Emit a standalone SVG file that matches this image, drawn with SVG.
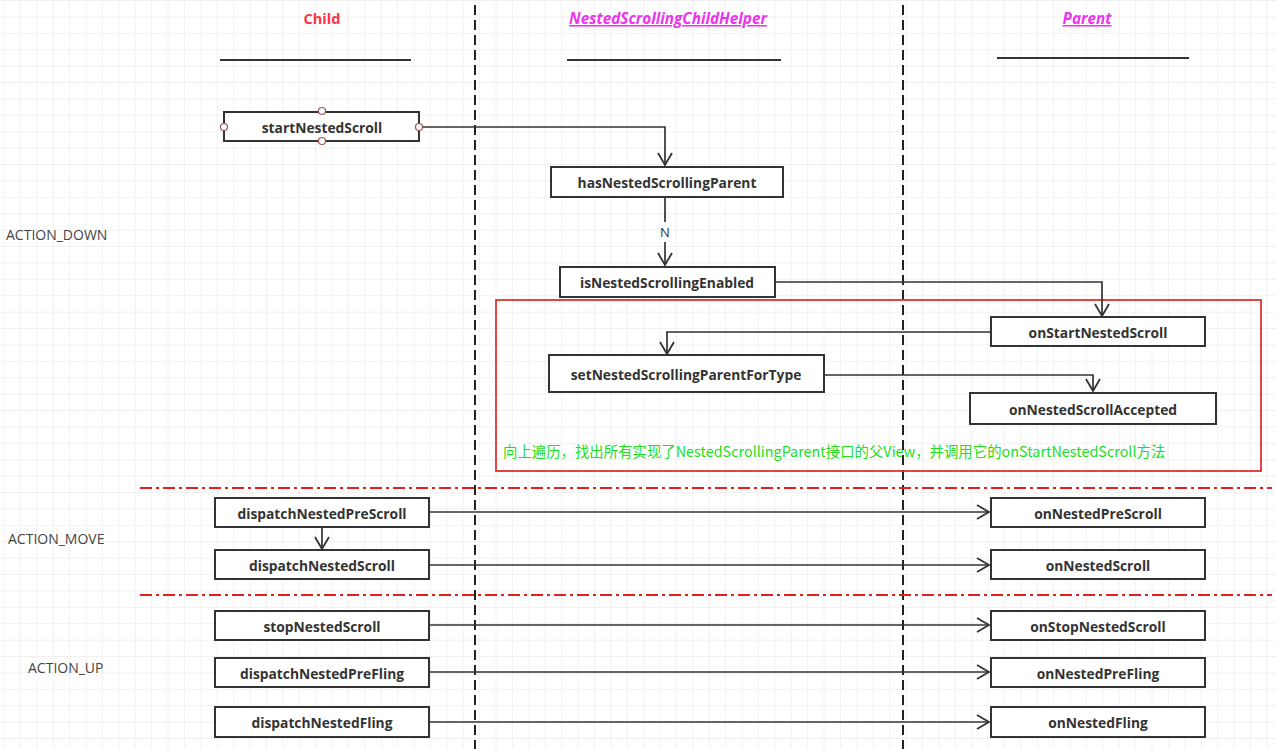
<svg xmlns="http://www.w3.org/2000/svg" width="1276" height="749" viewBox="0 0 1276 749">
<defs>
<pattern id="grid" width="16.4" height="16.4" patternUnits="userSpaceOnUse" x="4.5" y="1">
<path d="M16.4 0 V16.4 M0 16.4 H16.4" fill="none" stroke="#e4e4e4" stroke-width="1"/>
</pattern>
<marker id="arr" markerWidth="16" markerHeight="18" refX="13" refY="9" orient="auto" markerUnits="userSpaceOnUse">
<path d="M1,2 L13,9 L1,16" fill="none" stroke="#333" stroke-width="1.8"/>
</marker>
</defs>
<style>
.box{fill:#fff;stroke:#333;stroke-width:2}
.bt{font-family:"Open Sans","Noto Sans",sans-serif;font-weight:bold;font-size:13.8px;fill:#333;text-anchor:middle;dominant-baseline:central}
.lbl{font-family:"Open Sans","Noto Sans",sans-serif;font-size:14px;fill:#444}
.conn{fill:none;stroke:#333;stroke-width:1.7}
.hd{font-family:"Open Sans","Noto Sans",sans-serif;font-weight:bold;font-style:italic;font-size:15.3px;fill:#ee33ee;text-anchor:middle;text-decoration:underline}
.hl{stroke:#333;stroke-width:2}
.vd{stroke:#222;stroke-width:2;stroke-dasharray:10 5}
.rd{stroke:#e02020;stroke-width:2;stroke-dasharray:12 4 3 4}
.pt{fill:#fff;stroke:#a05050;stroke-width:1.2}
</style>
<rect width="1276" height="749" fill="#fff"/>
<rect width="1276" height="749" fill="url(#grid)"/>

<g id="lanes">
<line class="vd" x1="475" y1="5" x2="475" y2="749"/>
<line class="vd" x1="903" y1="5" x2="903" y2="749"/>
<line class="rd" x1="140" y1="488" x2="1272" y2="488"/>
<line class="rd" x1="140" y1="595" x2="1272" y2="595"/>
</g>

<g id="headers">
<text x="322" y="24" font-family="'Open Sans','Noto Sans',sans-serif" font-weight="bold" font-size="14.5" fill="#ff3344" text-anchor="middle">Child</text>
<text class="hd" x="668" y="24">NestedScrollingChildHelper</text>
<text class="hd" x="1087" y="24">Parent</text>
<line class="hl" x1="220" y1="60" x2="411" y2="60"/>
<line class="hl" x1="567" y1="60" x2="781" y2="60"/>
<line class="hl" x1="997" y1="58" x2="1189" y2="58"/>
</g>

<g id="phase-labels">
<text class="lbl" x="6" y="240">ACTION_DOWN</text>
<text class="lbl" x="8" y="544">ACTION_MOVE</text>
<text class="lbl" x="28" y="673">ACTION_UP</text>
</g>

<g id="redbox">
<rect x="496" y="300" width="765" height="171" fill="none" stroke="#e03030" stroke-width="1.8"/>
<text x="503" y="457" font-family="'Noto Sans CJK SC','Noto Sans',sans-serif" font-size="14.4" fill="#22dd22">向上遍历，找出所有实现了NestedScrollingParent接口的父View，并调用它的onStartNestedScroll方法</text>
</g>

<g id="connectors">
<path class="conn" d="M419,127 H665 V165" marker-end="url(#arr)"/>
<path class="conn" d="M665,197 V222 M665,242 V265" marker-end="url(#arr)"/>
<path class="conn" d="M775,282 H1102 V316" marker-end="url(#arr)"/>
<path class="conn" d="M991,332 H667 V354" marker-end="url(#arr)"/>
<path class="conn" d="M824,375 H1093 V391" marker-end="url(#arr)"/>
<path class="conn" d="M322,527 V549" marker-end="url(#arr)"/>
<path class="conn" d="M429,512 H989" marker-end="url(#arr)"/>
<path class="conn" d="M429,565 H989" marker-end="url(#arr)"/>
<path class="conn" d="M429,625 H989" marker-end="url(#arr)"/>
<path class="conn" d="M429,672 H989" marker-end="url(#arr)"/>
<path class="conn" d="M429,722 H989" marker-end="url(#arr)"/>
<text x="665" y="232" font-family="'Open Sans','Noto Sans',sans-serif" font-size="13" fill="#333" text-anchor="middle" dominant-baseline="central">N</text>
</g>

<g id="startNestedScroll">
<rect class="box" x="224" y="112" width="195" height="29"/>
<text class="bt" x="322" y="127">startNestedScroll</text>
<circle class="pt" cx="322" cy="111" r="3.5"/>
<circle class="pt" cx="322" cy="141" r="3.5"/>
<circle class="pt" cx="224" cy="127" r="3.5"/>
<circle class="pt" cx="419" cy="127" r="3.5"/>
</g>
<g id="hasNestedScrollingParent">
<rect class="box" x="551" y="167" width="232" height="30"/>
<text class="bt" x="667" y="182">hasNestedScrollingParent</text>
</g>
<g id="isNestedScrollingEnabled">
<rect class="box" x="560" y="267" width="215" height="30"/>
<text class="bt" x="667" y="282">isNestedScrollingEnabled</text>
</g>
<g id="onStartNestedScroll">
<rect class="box" x="991" y="317" width="214" height="29"/>
<text class="bt" x="1098" y="332">onStartNestedScroll</text>
</g>
<g id="setNestedScrollingParentForType">
<rect class="box" x="549" y="355" width="275" height="37"/>
<text class="bt" x="686" y="374">setNestedScrollingParentForType</text>
</g>
<g id="onNestedScrollAccepted">
<rect class="box" x="970" y="393" width="246" height="31"/>
<text class="bt" x="1093" y="409">onNestedScrollAccepted</text>
</g>
<g id="dispatchNestedPreScroll">
<rect class="box" x="215" y="498" width="214" height="29"/>
<text class="bt" x="322" y="513">dispatchNestedPreScroll</text>
</g>
<g id="dispatchNestedScroll">
<rect class="box" x="215" y="550" width="214" height="29"/>
<text class="bt" x="322" y="565">dispatchNestedScroll</text>
</g>
<g id="onNestedPreScroll">
<rect class="box" x="991" y="498" width="214" height="29"/>
<text class="bt" x="1098" y="513">onNestedPreScroll</text>
</g>
<g id="onNestedScroll">
<rect class="box" x="991" y="550" width="214" height="29"/>
<text class="bt" x="1098" y="565">onNestedScroll</text>
</g>
<g id="stopNestedScroll">
<rect class="box" x="215" y="611" width="214" height="29"/>
<text class="bt" x="322" y="626">stopNestedScroll</text>
</g>
<g id="dispatchNestedPreFling">
<rect class="box" x="215" y="658" width="214" height="29"/>
<text class="bt" x="322" y="673">dispatchNestedPreFling</text>
</g>
<g id="dispatchNestedFling">
<rect class="box" x="215" y="707" width="214" height="30"/>
<text class="bt" x="322" y="722">dispatchNestedFling</text>
</g>
<g id="onStopNestedScroll">
<rect class="box" x="991" y="611" width="214" height="29"/>
<text class="bt" x="1098" y="626">onStopNestedScroll</text>
</g>
<g id="onNestedPreFling">
<rect class="box" x="991" y="658" width="214" height="29"/>
<text class="bt" x="1098" y="673">onNestedPreFling</text>
</g>
<g id="onNestedFling">
<rect class="box" x="991" y="707" width="214" height="30"/>
<text class="bt" x="1098" y="722">onNestedFling</text>
</g>
</svg>
